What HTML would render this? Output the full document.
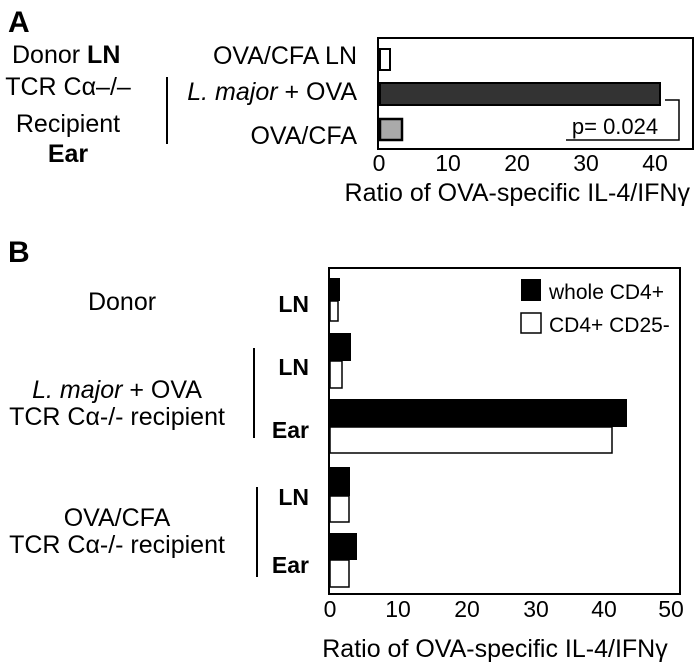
<!DOCTYPE html>
<html><head><style>body{margin:0;background:#fff}svg{display:block}text{font-family:"Liberation Sans",Arial,sans-serif;fill:#000}</style></head><body>
<svg width="700" height="671" viewBox="0 0 700 671" xmlns="http://www.w3.org/2000/svg">
<!-- Panel A -->
<text x="8" y="32" font-size="30" font-weight="bold">A</text>
<text x="12" y="63" font-size="25">Donor <tspan font-weight="bold">LN</tspan></text>
<text x="68" y="95" font-size="25" text-anchor="middle">TCR Cα–/–</text>
<text x="68" y="132" font-size="25" text-anchor="middle">Recipient</text>
<text x="68" y="162" font-size="25" text-anchor="middle" font-weight="bold">Ear</text>
<line x1="167" y1="77" x2="167" y2="144" stroke="#000" stroke-width="2"/>
<text x="357" y="64" font-size="25" text-anchor="end">OVA/CFA LN</text>
<text x="357" y="100" font-size="25" text-anchor="end"><tspan font-style="italic">L. major</tspan> + OVA</text>
<text x="357" y="144" font-size="25" text-anchor="end">OVA/CFA</text>
<rect x="378" y="38" width="315" height="111" fill="none" stroke="#000" stroke-width="2"/>
<rect x="380" y="49" width="10" height="21" fill="#fff" stroke="#000" stroke-width="2"/>
<rect x="380" y="83" width="280" height="22" fill="#333" stroke="#000" stroke-width="2"/>
<rect x="380" y="119" width="22" height="21" fill="#aaa" stroke="#000" stroke-width="2.5"/>
<polyline points="665,100 679,100 679,140 566,140" fill="none" stroke="#000" stroke-width="1.5"/>
<text x="615" y="134" font-size="22" text-anchor="middle">p= 0.024</text>
<g font-size="23" text-anchor="middle">
<text x="379" y="171">0</text><text x="448" y="171">10</text><text x="517" y="171">20</text><text x="586" y="171">30</text><text x="655" y="171">40</text>
</g>
<text x="690" y="201" font-size="25" text-anchor="end">Ratio of OVA-specific IL-4/IFNγ</text>
<!-- Panel B -->
<text x="8" y="262" font-size="30" font-weight="bold">B</text>
<text x="122" y="310" font-size="25" text-anchor="middle">Donor</text>
<g font-size="23" font-weight="bold" text-anchor="end">
<text x="309" y="312">LN</text><text x="309" y="375">LN</text><text x="309" y="438">Ear</text><text x="309" y="505">LN</text><text x="309" y="573">Ear</text>
</g>
<line x1="254" y1="348" x2="254" y2="438" stroke="#000" stroke-width="2"/>
<line x1="257" y1="487" x2="257" y2="577" stroke="#000" stroke-width="2"/>
<text x="117" y="398" font-size="25" text-anchor="middle"><tspan font-style="italic">L. major</tspan> + OVA</text>
<text x="117" y="425" font-size="25" text-anchor="middle">TCR Cα-/- recipient</text>
<text x="117" y="526" font-size="25" text-anchor="middle">OVA/CFA</text>
<text x="117" y="553" font-size="25" text-anchor="middle">TCR Cα-/- recipient</text>
<rect x="329" y="268" width="351" height="326" fill="none" stroke="#000" stroke-width="2"/>
<rect x="329" y="278" width="11" height="23" fill="#000"/>
<rect x="330" y="301" width="8" height="20" fill="#fff" stroke="#000" stroke-width="1.5"/>
<rect x="329" y="333" width="22" height="28" fill="#000"/>
<rect x="330" y="361" width="12" height="27" fill="#fff" stroke="#000" stroke-width="1.5"/>
<rect x="329" y="399" width="298" height="28" fill="#000"/>
<rect x="330" y="427" width="282" height="26" fill="#fff" stroke="#000" stroke-width="1.5"/>
<rect x="329" y="467" width="21" height="29" fill="#000"/>
<rect x="330" y="496" width="19" height="26" fill="#fff" stroke="#000" stroke-width="1.5"/>
<rect x="329" y="533" width="28" height="27" fill="#000"/>
<rect x="330" y="560" width="19" height="27" fill="#fff" stroke="#000" stroke-width="1.5"/>
<rect x="521" y="279" width="20" height="22" fill="#000"/>
<rect x="521" y="313" width="20" height="20" fill="#fff" stroke="#000" stroke-width="1.5"/>
<text x="549" y="299" font-size="21">whole CD4+</text>
<text x="549" y="332" font-size="21">CD4+ CD25-</text>
<g font-size="23" text-anchor="middle">
<text x="330" y="617">0</text><text x="398" y="617">10</text><text x="467" y="617">20</text><text x="536" y="617">30</text><text x="604" y="617">40</text><text x="671" y="617">50</text>
</g>
<text x="495" y="657" font-size="25" text-anchor="middle">Ratio of OVA-specific IL-4/IFNγ</text>
</svg>
</body></html>
